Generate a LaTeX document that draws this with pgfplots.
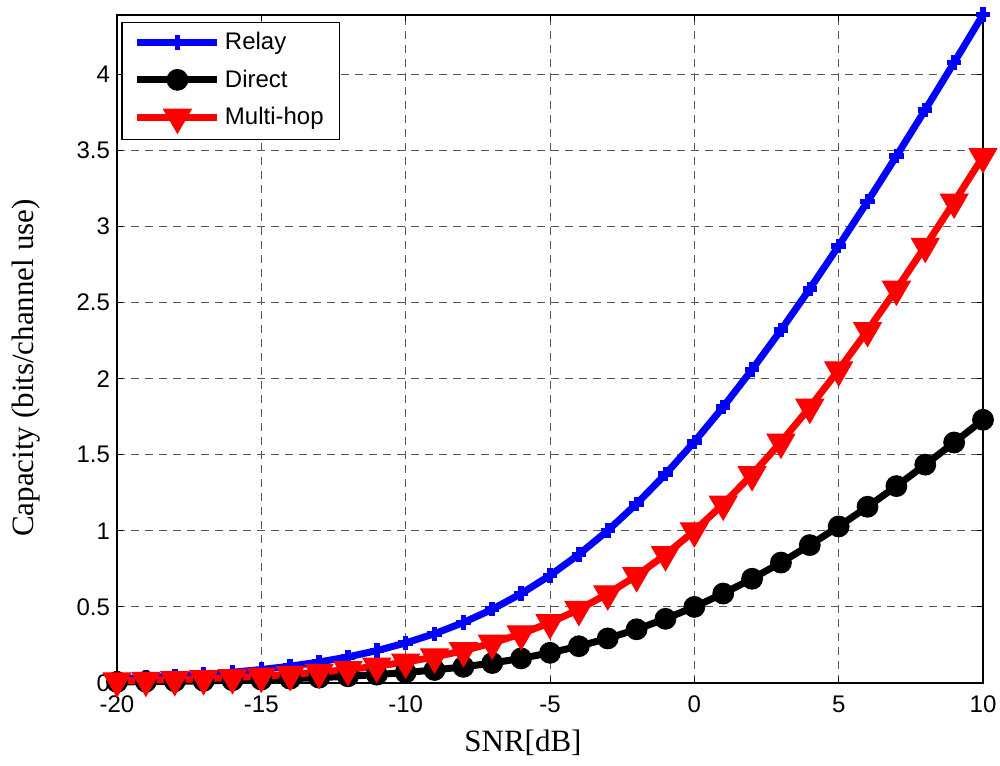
\documentclass[border=0pt]{standalone}
\usepackage{pgfplots}
\pgfplotsset{compat=1.18}
\usepackage{fontspec}
\setmainfont{Liberation Sans}
\newfontfamily\timesfont{Liberation Serif}
\begin{document}
\begin{tikzpicture}
\begin{axis}[
  scale only axis,
  width=433pt, height=334pt,
  xmin=-20, xmax=10, ymin=0, ymax=4.39,
  xtick={-20,-15,...,10},
  ytick={0,0.5,...,4},
  yticklabels={0,0.5,1,1.5,2,2.5,3,3.5,4},
  /pgf/number format/assume math mode=true,
  ticklabel style={font=\fontsize{12pt}{14pt}\selectfont},
  xticklabel style={yshift=-3pt},
  tick align=inside,
  major tick length=3pt,
  tick style={black, line width=0.5pt},
  axis line style={black, line width=0.6pt},
  grid=major,
  grid style={black!65, dash pattern=on 4pt off 3pt, line width=0.5pt},
  xlabel={\timesfont SNR[dB]},
  ylabel={\timesfont Capacity (bits/channel use)},
  label style={font=\fontsize{15.5pt}{18pt}\selectfont},
  xlabel style={at={(axis description cs:0.5,0)}, anchor=center, xshift=-13.5pt, yshift=-30pt},
  ylabel style={at={(axis description cs:0,0.5)}, anchor=center, xshift=-9.5pt, yshift=45.5pt},
  legend style={at={(0.005,0.99)}, anchor=north west, font=\fontsize{12pt}{14pt}\selectfont,
    draw=black, line width=0.6pt, inner xsep=6pt, inner ysep=3pt, row sep=4.5pt, cells={anchor=west}},
  legend image code/.code={\draw[mark repeat=2,mark phase=2] plot coordinates {(0pt,0pt) (20pt,0pt) (40pt,0pt)};},
  clip=false,
]
\addplot[blue, line width=3.5pt, mark=+, mark size=3.6pt, mark options={solid, line width=2.8pt}] coordinates {
(-20,0.02857) (-19,0.03588) (-18,0.04502) (-17,0.05645) (-16,0.07072) (-15,0.08848)
(-14,0.11053) (-13,0.13782) (-12,0.17145) (-11,0.21271) (-10,0.26303) (-9,0.32399)
(-8,0.39723) (-7,0.48445) (-6,0.58725) (-5,0.70705) (-4,0.84496) (-3,1.00171)
(-2,1.17755) (-1,1.37221) (0,1.58496) (1,1.81469) (2,2.05998) (3,2.31919)
(4,2.59067) (5,2.87279) (6,3.16385) (7,3.46254) (8,3.76757) (9,4.07780) (10,4.39232)};
\addlegendentry{Relay}
\addplot[black, line width=3.5pt, mark=*, mark size=5.2pt, mark options={solid, line width=0.5pt}] coordinates {
(-20,0.00718) (-19,0.00902) (-18,0.01134) (-17,0.01425) (-16,0.01790) (-15,0.02246)
(-14,0.02816) (-13,0.03528) (-12,0.04414) (-11,0.05514) (-10,0.06875) (-9,0.08553)
(-8,0.10612) (-7,0.13124) (-6,0.16165) (-5,0.19820) (-4,0.24174) (-3,0.29305)
(-2,0.35286) (-1,0.42172) (0,0.50000) (1,0.58782) (2,0.68506) (3,0.79134)
(4,0.90612) (5,1.02869) (6,1.15823) (7,1.29391) (8,1.43492) (9,1.58041) (10,1.72972)};
\addlegendentry{Direct}
\addplot[red, line width=3.5pt, mark=triangle*, mark size=8pt, mark options={solid, rotate=180, line width=0.5pt}] coordinates {
(-20,0.01436) (-19,0.01805) (-18,0.02269) (-17,0.02850) (-16,0.03579) (-15,0.04492)
(-14,0.05632) (-13,0.07055) (-12,0.08827) (-11,0.11028) (-10,0.13750) (-9,0.17107)
(-8,0.21225) (-7,0.26247) (-6,0.32330) (-5,0.39641) (-4,0.48347) (-3,0.58610)
(-2,0.70572) (-1,0.84344) (0,1.00000) (1,1.17564) (2,1.37011) (3,1.58268)
(4,1.81224) (5,2.05738) (6,2.31646) (7,2.58782) (8,2.86984) (9,3.16081) (10,3.45943)};
\addlegendentry{Multi-hop}
\end{axis}
\pgfresetboundingbox
\path (-58.5pt,-41pt) rectangle (441.5pt,341.5pt);
\end{tikzpicture}
\end{document}
